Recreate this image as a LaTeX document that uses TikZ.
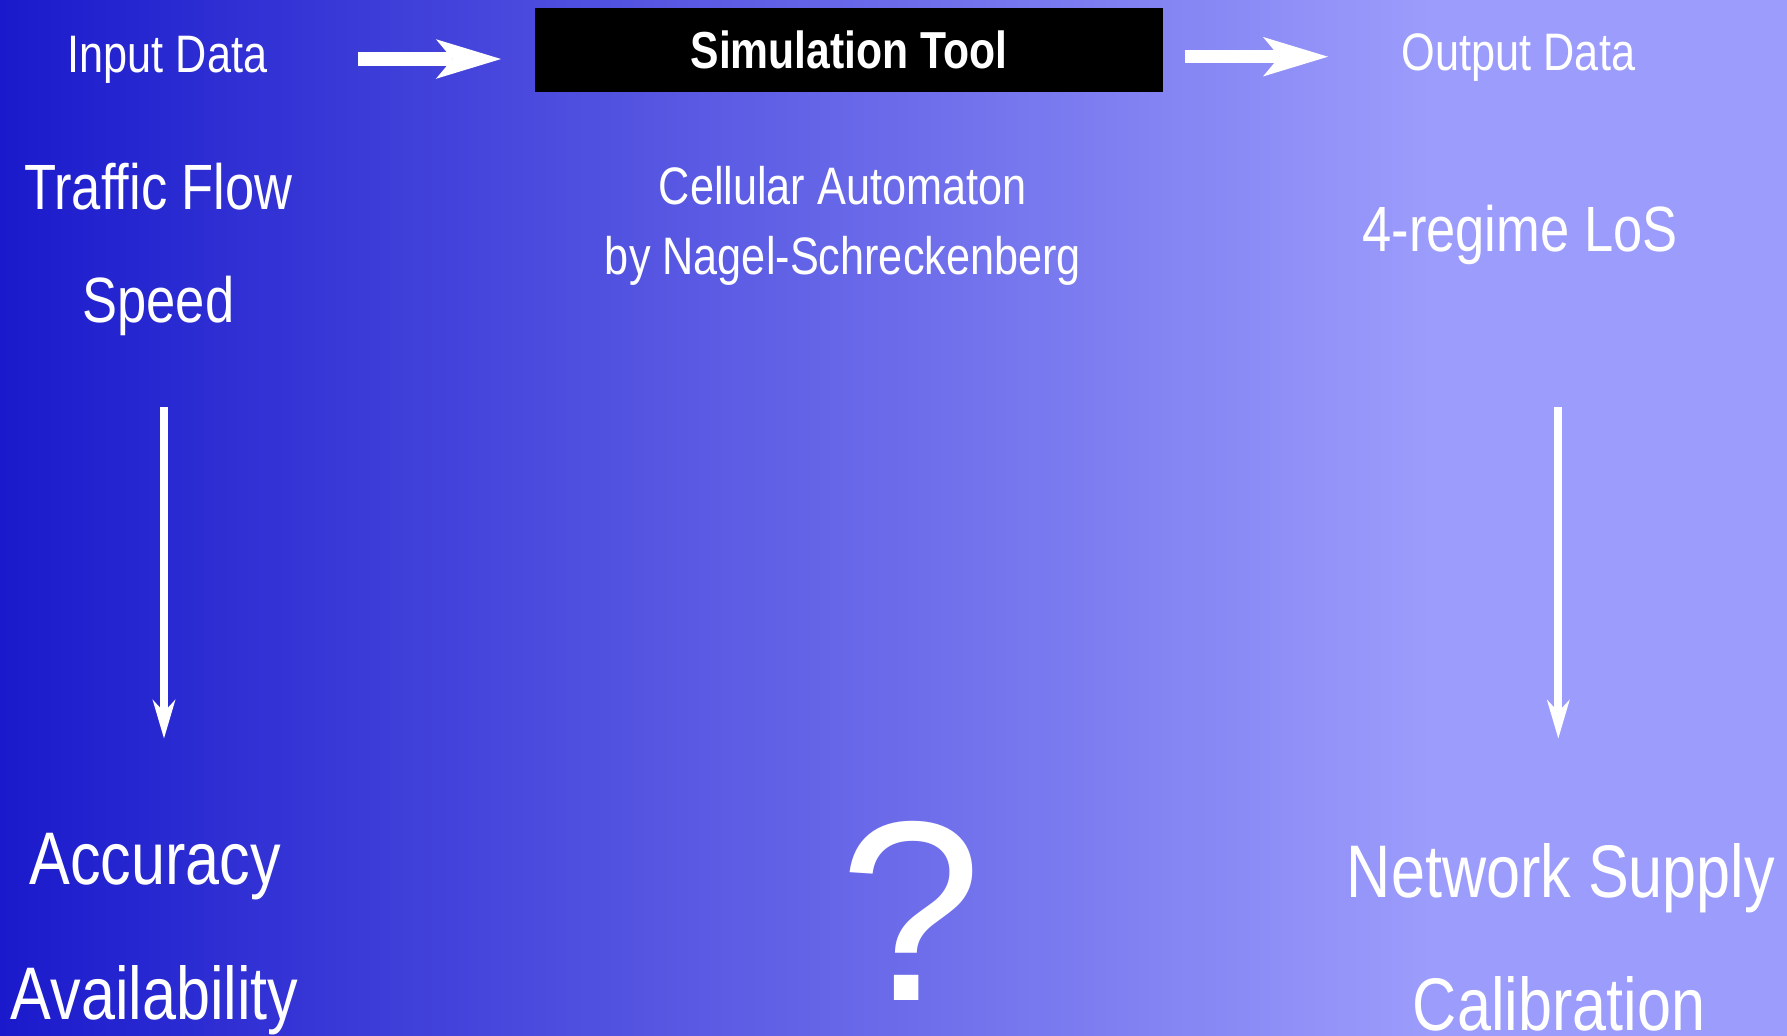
\documentclass[tikz,border=0pt]{standalone}
\usepackage{fontspec}
\setmainfont{Liberation Sans}[FakeStretch=0.82]
\newfontfamily\qfont{Liberation Sans}
\usetikzlibrary{arrows.meta}
\definecolor{bgleft}{RGB}{26,26,204}
\definecolor{bgright}{RGB}{156,156,252}
\pgfdeclarehorizontalshading{bgshade}{100bp}{color(0bp)=(bgleft); color(25bp)=(bgleft); color(65bp)=(bgright); color(100bp)=(bgright)}
\begin{document}
\begin{tikzpicture}[x=0.01cm,y=-0.01cm,
  lbl/.style={text=white,inner sep=0pt,anchor=base},
  smalltxt/.style={lbl,font=\fontsize{15}{18}\selectfont},
  midtxt/.style={lbl,font=\fontsize{18.2}{22}\selectfont},
  bigtxt/.style={lbl,font=\fontsize{21.2}{25}\selectfont},
  flowarrow/.style={draw=white,line width=1.34mm,-{Stealth[length=6.5mm,width=3.95mm,inset=1.65mm,line width=0pt]}},
  downarrow/.style={draw=white,line width=0.77mm,-{Stealth[length=3.9mm,width=2.3mm,inset=1.25mm,line width=0pt]}}]
\useasboundingbox (0,0) rectangle (1787,1035);
\shade[shading=bgshade] (0,0) rectangle (1787,1035);

\node[fill=black,minimum width=6.282cm,minimum height=0.834cm,inner sep=0pt,text=white,
  font=\bfseries\fontsize{14.8}{18}\selectfont] (sim) at (849,50) {Simulation Tool};

\node[smalltxt] (in) at (167.5,72.7) {Input Data};
\node[smalltxt] (out) at (1518.5,70.7) {Output Data};
\node[midtxt] (tf) at (158.5,209) {Traffic Flow};
\node[midtxt] (sp) at (158.5,322.7) {Speed};
\node[smalltxt] (ca) at (842.7,204) {Cellular Automaton};
\node[smalltxt] (ns) at (843,274) {by Nagel-Schreckenberg};
\node[midtxt] (los) at (1520,251.7) {4-regime LoS};
\node[bigtxt] (acc) at (155,884) {Accuracy};
\node[bigtxt] (av) at (154.7,1019) {Availability};
\node[bigtxt] (net) at (1561,897) {Network Supply};
\node[bigtxt] (cal) at (1559,1030) {Calibration};
\node[lbl,font=\qfont\fontsize{73}{80}\selectfont] (q) at (911,1000.7) {?};

\coordinate (a1s) at (357.8,59);
\coordinate (a1e) at (501,59);
\coordinate (a2s) at (1184.5,56.7);
\coordinate (a2e) at (1328,56.7);
\coordinate (d1s) at (164,407);
\coordinate (d1e) at (164,738.4);
\coordinate (d2s) at (1558.3,407);
\coordinate (d2e) at (1558.3,738.4);

\draw[flowarrow] (a1s) -- (a1e);
\draw[flowarrow] (a2s) -- (a2e);
\draw[downarrow] (d1s) -- (d1e);
\draw[downarrow] (d2s) -- (d2e);
\end{tikzpicture}
\end{document}
